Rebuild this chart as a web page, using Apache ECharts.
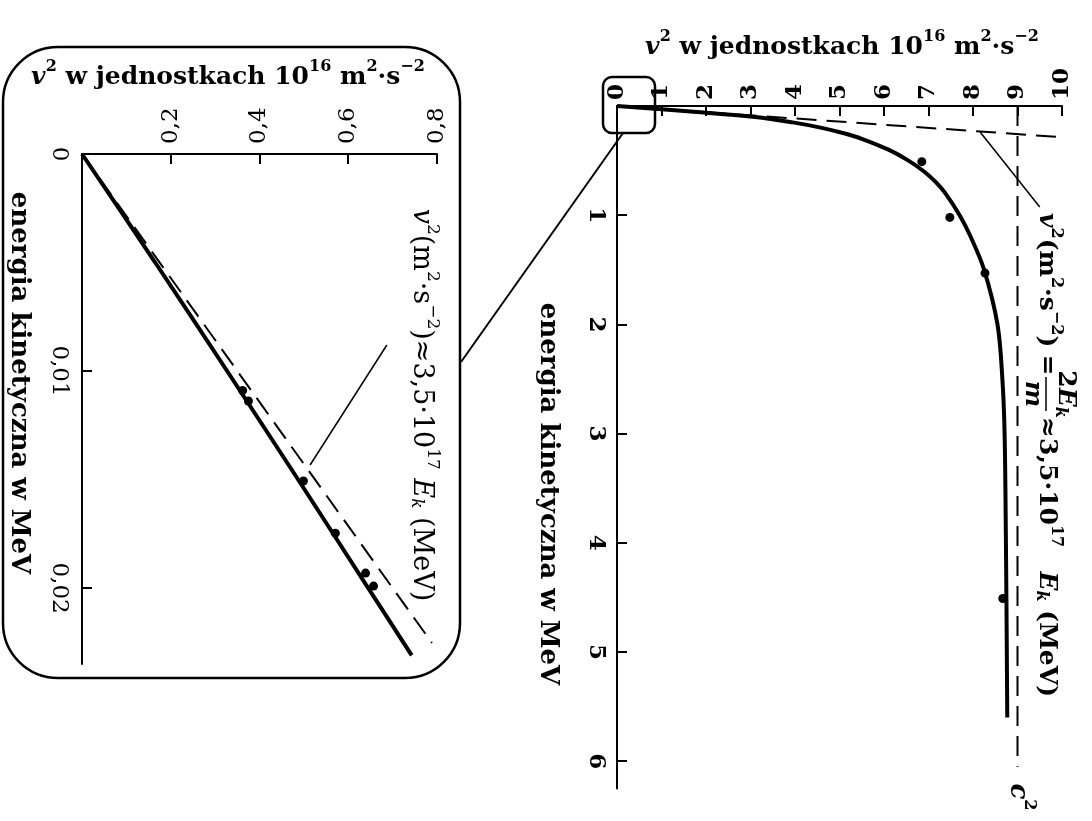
<!DOCTYPE html>
<html>
<head>
<meta charset="utf-8">
<script src="https://cdn.jsdelivr.net/npm/echarts@6/dist/echarts.min.js"></script>
<style>
  html, body { margin: 0; padding: 0; background: #fff; }
  #chart { width: 1092px; height: 821px; }
</style>
</head>
<body>
<div id="chart"></div>
<script>
// ---- Main plot: v² (units of 10^16 m²·s⁻²) against kinetic energy (MeV) ----
const mainV2Ticks = [0, 1, 2, 3, 4, 5, 6, 7, 8, 9, 10];
const mainEnergyTicks = [1, 2, 3, 4, 5, 6];
// measured electron curve
const curveE  = [0, 0.05, 0.1, 0.15, 0.2, 0.25, 0.3, 0.4, 0.5, 0.6, 0.7, 0.8, 1.0, 1.2, 1.5, 2.0, 2.5, 3.0, 4.0, 5.0, 5.6];
const curveV2 = [0, 1.65, 3.1, 3.95, 4.6, 5.1, 5.5, 6.1, 6.55, 6.9, 7.17, 7.38, 7.7, 7.95, 8.25, 8.55, 8.66, 8.71, 8.74, 8.76, 8.77];
// classical prediction v² = 2E/m
const newtonE  = [0, 0.293];
const newtonV2 = [0, 10.25];
// speed of light limit c²
const lightE  = [0, 6.05];
const lightV2 = [9, 9];
// measured points
const measuredE  = [0.51, 1.02, 1.53, 4.51];
const measuredV2 = [6.85, 7.48, 8.27, 8.67];
// leader from the formula to the dashed line
const leaderE  = [0.238, 0.925];
const leaderV2 = [8.16, 9.5];

// ---- Inset: the low-energy corner of the main plot ----
const insetV2Ticks = [0.2, 0.4, 0.6, 0.8];
const insetEnergyTicks = [0, 0.01, 0.02];
const insetCurveE  = [0, 0.005, 0.01, 0.015, 0.02, 0.0231];
const insetCurveV2 = [0, 0.165, 0.327, 0.487, 0.645, 0.743];
const insetNewtonE  = [0, 0.02253];
const insetNewtonV2 = [0, 0.7886];
const insetPointsE  = [0.0109, 0.01138, 0.01507, 0.01747, 0.01931, 0.01991];
const insetPointsV2 = [0.362, 0.375, 0.499, 0.571, 0.639, 0.657];
const insetLeaderE  = [0.01433, 0.0088];
const insetLeaderV2 = [0.514, 0.687];

const zip = (xs, ys) => xs.map((x, i) => [x, ys[i]]);
const comma = v => String(v).replace('.', ',');
const SERIF = '"DejaVu Serif", "Liberation Serif", serif';

const axisLineStyle = { color: '#000', width: 2 };

// rich-text token set for a given base size and weight (b: upright, i: italic, s: superscript, k: subscript)
function makeRich(size, weight) {
  const sup = Math.round(size * 0.62);
  return {
    b: { fontFamily: SERIF, fontWeight: weight, fontSize: size, lineHeight: size + 6, verticalAlign: 'bottom' },
    i: { fontFamily: SERIF, fontWeight: weight, fontStyle: 'italic', fontSize: size, lineHeight: size + 6, verticalAlign: 'bottom' },
    s: { fontFamily: SERIF, fontWeight: weight, fontSize: sup, lineHeight: sup, verticalAlign: 'top' },
    k: { fontFamily: SERIF, fontWeight: weight, fontStyle: 'italic', fontSize: sup, lineHeight: sup, verticalAlign: 'bottom' }
  };
}
const headRich = makeRich(25, 'bold');
const titleRich = makeRich(26, 'bold');
const noteRich = makeRich(25, 'bold');
const insetNoteRich = makeRich(27, 'normal');

function richText(text, rich, x, y, rot, align) {
  return {
    type: 'text', x: x, y: y, rotation: rot || 0, z: 10,
    style: { text: text, rich: rich, fill: '#000', align: align || 'center', verticalAlign: 'middle' }
  };
}
const ROT = -Math.PI / 2;
const v2Title = '{i|v}{s|2}{b| w jednostkach 10}{s|16}{b| m}{s|2}{b|·s}{s|−2}';

const chart = echarts.init(document.getElementById('chart'), null, { renderer: 'canvas' });

function valueAxis(grid, min, max, interval, position, inverse, ticks, fmt, margin, weight) {
  return {
    type: 'value', gridIndex: grid, min: min, max: max, interval: interval,
    position: position, inverse: inverse,
    axisLine: { show: true, onZero: false, lineStyle: axisLineStyle },
    axisTick: { show: true, inside: true, length: 10, lineStyle: axisLineStyle, customValues: ticks },
    axisLabel: {
      show: true, rotate: -90, margin: margin, customValues: ticks,
      fontFamily: SERIF, fontWeight: weight, fontSize: 23, color: '#000',
      formatter: fmt
    },
    splitLine: { show: false }
  };
}

const solid = w => ({ color: '#000', width: w, type: 'solid' });
const dashed = { color: '#000', width: 2, type: [20, 10] };
const dots = { color: '#000', opacity: 1 };

chart.setOption({
  animation: false,
  backgroundColor: '#fff',
  grid: [
    { left: 617, top: 106, width: 445, height: 682.5 },
    { left: 82, top: 154, width: 355, height: 510 }
  ],
  xAxis: [
    valueAxis(0, 0, 10, 1, 'top', false, mainV2Ticks, v => String(v), 6, 'bold'),
    valueAxis(1, 0, 0.8, 0.2, 'top', false, insetV2Ticks, v => comma(+v.toFixed(1)), 10, 'normal')
  ],
  yAxis: [
    valueAxis(0, 0, 6.25, 1, 'left', true, mainEnergyTicks, v => String(v), 10, 'bold'),
    valueAxis(1, 0, 0.0235, 0.01, 'left', true, insetEnergyTicks, v => comma(+v.toFixed(2)), 12, 'normal')
  ],
  series: [
    { type: 'line', xAxisIndex: 0, yAxisIndex: 0, data: zip(curveV2, curveE), smooth: 0.35,
      symbol: 'none', lineStyle: solid(4), z: 3 },
    { type: 'line', xAxisIndex: 0, yAxisIndex: 0, data: zip(newtonV2, newtonE), clip: false,
      symbol: 'none', lineStyle: dashed },
    { type: 'line', xAxisIndex: 0, yAxisIndex: 0, data: zip(lightV2, lightE), clip: false,
      symbol: 'none', lineStyle: dashed },
    { type: 'line', xAxisIndex: 0, yAxisIndex: 0, data: zip(leaderV2, leaderE), clip: false,
      symbol: 'none', lineStyle: solid(1.5) },
    { type: 'scatter', xAxisIndex: 0, yAxisIndex: 0, data: zip(measuredV2, measuredE),
      symbol: 'circle', symbolSize: 9, itemStyle: dots, z: 4 },

    { type: 'line', xAxisIndex: 1, yAxisIndex: 1, data: zip(insetCurveV2, insetCurveE), smooth: 0.3,
      symbol: 'none', lineStyle: solid(4), z: 3 },
    { type: 'line', xAxisIndex: 1, yAxisIndex: 1, data: zip(insetNewtonV2, insetNewtonE), clip: false,
      symbol: 'none', lineStyle: dashed },
    { type: 'line', xAxisIndex: 1, yAxisIndex: 1, data: zip(insetLeaderV2, insetLeaderE), clip: false,
      symbol: 'none', lineStyle: solid(1.5) },
    { type: 'scatter', xAxisIndex: 1, yAxisIndex: 1, data: zip(insetPointsV2, insetPointsE),
      symbol: 'circle', symbolSize: 9, itemStyle: dots, z: 4 }
  ]
});

// Frames, connector and text blocks placed around the two plots
const o = chart.convertToPixel({ gridIndex: 0 }, [0, 0]);
const g = [
  { type: 'rect', shape: { x: 3, y: 47, width: 457, height: 631, r: 55 },
    style: { fill: 'none', stroke: '#000', lineWidth: 2.5 }, z: 5 },
  { type: 'rect', shape: { x: o[0] - 14, y: o[1] - 29, width: 52, height: 56, r: 9 },
    style: { fill: 'none', stroke: '#000', lineWidth: 2.5 }, z: 5 },
  { type: 'line', shape: { x1: o[0] + 6, y1: o[1] + 27, x2: 461, y2: 362 },
    style: { stroke: '#000', lineWidth: 2 }, z: 5 },

  richText(v2Title, headRich, 842, 44),
  richText(v2Title, headRich, 228, 74),
  richText('{b|energia kinetyczna w MeV}', titleRich, 551, 494, ROT),
  richText('{b|energia kinetyczna w MeV}', titleRich, 22, 383, ROT),
  richText('{i|v}{s|2}{b|(m}{s|2}{b|·s}{s|−2}{b|)≈3,5·10}{s|17}{b| }{i|E}{k|k}{b| (MeV)}', insetNoteRich, 424, 405, ROT),
  richText('{i|c}{s|2}', titleRich, 1021, 797, ROT),
  {
    type: 'group', x: 1049, y: 213, rotation: ROT, z: 10,
    children: [
      { type: 'text', x: 0, y: 0,
        style: { text: '{i|v}{s|2}{b|(m}{s|2}{b|·s}{s|−2}{b|)}', rich: noteRich, fill: '#000', align: 'left', verticalAlign: 'middle' } },
      { type: 'text', x: 152, y: 0,
        style: { text: '{b|=}', rich: noteRich, fill: '#000', align: 'center', verticalAlign: 'middle' } },
      { type: 'text', x: 181, y: -19,
        style: { text: '{b|2}{i|E}{k|k}', rich: noteRich, fill: '#000', align: 'center', verticalAlign: 'middle' } },
      { type: 'line', shape: { x1: 164, y1: 3, x2: 198, y2: 3 }, style: { stroke: '#000', lineWidth: 1.5 } },
      { type: 'text', x: 181, y: 14,
        style: { text: '{i|m}', rich: noteRich, fill: '#000', align: 'center', verticalAlign: 'middle' } },
      { type: 'text', x: 204, y: 0,
        style: { text: '{b|≈3,5·10}{s|17}', rich: noteRich, fill: '#000', align: 'left', verticalAlign: 'middle' } },
      { type: 'text', x: 484, y: 0,
        style: { text: '{i|E}{k|k}{b| (MeV)}', rich: noteRich, fill: '#000', align: 'right', verticalAlign: 'middle' } }
    ]
  }
];
chart.setOption({ graphic: g });
</script>
</body>
</html>
